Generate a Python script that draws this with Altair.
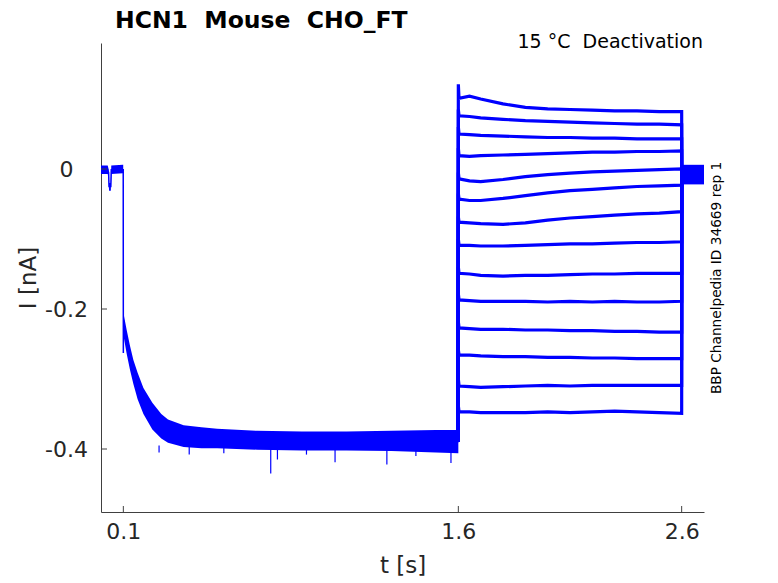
import altair as alt
import pandas as pd

# ---------------- data ----------------
# common activating pulse (all sweeps overlap): envelope of the thick band
pre_t  = [0.0, 0.03, 0.034, 0.036, 0.044, 0.046, 0.098, 0.0995, 0.1005, 0.103, 0.115, 0.13, 0.145, 0.164,
          0.19, 0.23, 0.27, 0.30, 0.37, 0.45, 0.52, 0.7, 0.9, 1.1, 1.3, 1.5, 1.6]
pre_hi = [0.005, 0.005, 0.0, -0.02, -0.02, 0.005, 0.006, 0.006, -0.21, -0.210, -0.230, -0.253, -0.273, -0.291,
          -0.313, -0.334, -0.350, -0.358, -0.366, -0.369, -0.371, -0.374, -0.375, -0.375, -0.374, -0.373, -0.373]
pre_lo = [-0.007, -0.007, -0.011, -0.031, -0.031, -0.007, -0.006, -0.006, -0.24, -0.242, -0.264, -0.287, -0.307, -0.329,
          -0.350, -0.372, -0.385, -0.391, -0.397, -0.399, -0.399, -0.401, -0.402, -0.402, -0.403, -0.405, -0.406]
# centre trace of the activating pulse
mid_t = [0.0, 0.03, 0.034, 0.036, 0.044, 0.046, 0.0995, 0.1, 0.1005, 0.103, 0.115, 0.13, 0.145, 0.164,
         0.19, 0.23, 0.27, 0.30, 0.37, 0.45, 0.52, 0.7, 0.9, 1.1, 1.3, 1.5, 1.6]
mid_y = [-0.001, -0.001, -0.005, -0.025, -0.025, -0.001, -0.001, -0.263, -0.215, -0.226, -0.247, -0.270, -0.290, -0.310,
         -0.331, -0.353, -0.368, -0.375, -0.382, -0.384, -0.385, -0.388, -0.389, -0.389, -0.389, -0.389, -0.390]
# downward noise spikes on the activating pulse
spike_t = [0.26, 0.395, 0.55, 0.76, 0.79, 0.92, 1.048, 1.28, 1.41, 1.567]
spike_y = [-0.405, -0.408, -0.406, -0.435, -0.415, -0.408, -0.419, -0.422, -0.410, -0.420]

# deactivating steps (14 sweeps)
step_t = [1.603, 1.65, 1.7, 1.8, 1.9, 2.0, 2.1, 2.2, 2.3, 2.4, 2.5, 2.6]
onset = [0.121, 0.085, 0.060, 0.030, -0.005, -0.035, -0.068, -0.100, -0.140, -0.178, -0.218, -0.258, -0.300, -0.338]
sweeps = [
    [0.101, 0.104, 0.100, 0.093, 0.088, 0.086, 0.085, 0.084, 0.083, 0.083, 0.082, 0.082],
    [0.076, 0.075, 0.073, 0.071, 0.069, 0.068, 0.067, 0.066, 0.065, 0.064, 0.064, 0.063],
    [0.050, 0.049, 0.048, 0.047, 0.046, 0.045, 0.045, 0.044, 0.044, 0.043, 0.043, 0.043],
    [0.019, 0.018, 0.019, 0.020, 0.021, 0.022, 0.023, 0.024, 0.024, 0.025, 0.025, 0.026],
    [-0.014, -0.017, -0.018, -0.015, -0.011, -0.008, -0.006, -0.004, -0.003, -0.002, -0.001, 0.000],
    [-0.043, -0.045, -0.045, -0.042, -0.038, -0.034, -0.031, -0.029, -0.027, -0.025, -0.024, -0.023],
    [-0.076, -0.077, -0.078, -0.079, -0.077, -0.073, -0.070, -0.068, -0.066, -0.064, -0.063, -0.061],
    [-0.109, -0.109, -0.110, -0.110, -0.109, -0.108, -0.107, -0.107, -0.106, -0.105, -0.105, -0.104],
    [-0.149, -0.150, -0.152, -0.153, -0.152, -0.152, -0.151, -0.150, -0.150, -0.149, -0.149, -0.149],
    [-0.187, -0.188, -0.189, -0.189, -0.189, -0.190, -0.189, -0.190, -0.189, -0.190, -0.190, -0.189],
    [-0.227, -0.228, -0.229, -0.229, -0.230, -0.230, -0.231, -0.231, -0.232, -0.232, -0.233, -0.233],
    [-0.266, -0.266, -0.267, -0.268, -0.268, -0.269, -0.269, -0.270, -0.270, -0.271, -0.271, -0.271],
    [-0.310, -0.311, -0.312, -0.311, -0.310, -0.309, -0.310, -0.309, -0.309, -0.309, -0.309, -0.309],
    [-0.347, -0.347, -0.348, -0.348, -0.348, -0.347, -0.348, -0.347, -0.346, -0.347, -0.348, -0.349],
]
pre_end = -0.390
# return to holding potential
tail_t = [2.6005, 2.7]
tail_y = [-0.008, -0.008]
tail_hi = [0.006, 0.006]
tail_lo = [-0.022, -0.022]

x_ticks = [0.1, 1.6, 2.6]
y_ticks = [0.0, -0.2, -0.4]

# ---------------- tables ----------------
pre_df = pd.DataFrame({"t": pre_t, "hi": pre_hi, "lo": pre_lo})
mid_df = pd.DataFrame({"t": mid_t, "y": mid_y})
spk_df = pd.DataFrame({"t": spike_t, "y": spike_y, "y0": [-0.395] * len(spike_t)})
rows = []
for k, vals in enumerate(sweeps):
    seq = [(1.5995, pre_end), (1.6, onset[k])]
    seq += list(zip(step_t, vals))
    seq += list(zip(tail_t, tail_y))
    for i, (t, y) in enumerate(seq):
        rows.append({"sweep": k, "i": i, "t": t, "y": y})
sw_df = pd.DataFrame(rows)
tail_df = pd.DataFrame({"t": tail_t, "hi": tail_hi, "lo": tail_lo})
xt_df = pd.DataFrame({"t": x_ticks})
yt_df = pd.DataFrame({"y": y_ticks})

W, H = 603, 469
BLUE = "#0000ff"
AX = "#404040"
TXT = "#262626"
FONT = "DejaVu Sans"
NB = "\u00a0"

xs = alt.Scale(domain=[0, 2.7], nice=False, zero=False)
ys = alt.Scale(domain=[-0.49, 0.18], nice=False, zero=False)

x_enc = alt.X("t:Q", scale=xs, title="t [s]",
              axis=alt.Axis(values=x_ticks, ticks=False, grid=False, labelFontSize=22,
                            labelColor=TXT, titleFontSize=23, titleColor=TXT,
                            titleFontWeight="normal", labelPadding=9, titlePadding=12,
                            domainColor=AX, labelFont=FONT, titleFont=FONT, format=".1f"))
y_axis = alt.Axis(values=y_ticks, ticks=False, grid=False, labelFontSize=22,
                  labelColor=TXT, titleFontSize=23, titleColor=TXT,
                  titleFontWeight="normal", labelPadding=35, labelAlign="center", titlePadding=4,
                  domainColor=AX, labelFont=FONT, titleFont=FONT,
                  labelExpr="datum.value == 0 ? '0' : (datum.value < 0 ? '-' + format(-datum.value, '.1f') : format(datum.value, '.1f'))")

band = alt.Chart(pre_df).mark_area(color=BLUE, opacity=1).encode(
    x=x_enc, y=alt.Y("hi:Q", scale=ys, axis=y_axis, title="I [nA]"), y2="lo:Q")
mid = alt.Chart(mid_df).mark_line(color=BLUE, strokeWidth=1.5).encode(
    x="t:Q", y=alt.Y("y:Q", scale=ys), order="t:Q")
spikes = alt.Chart(spk_df).mark_rule(color=BLUE, strokeWidth=1.2).encode(
    x="t:Q", y=alt.Y("y0:Q", scale=ys), y2="y:Q")
lines = alt.Chart(sw_df).mark_line(color=BLUE, strokeWidth=3.2).encode(
    x="t:Q", y=alt.Y("y:Q", scale=ys), detail="sweep:N", order="i:Q")
tail = alt.Chart(tail_df).mark_area(color=BLUE, opacity=1).encode(
    x="t:Q", y=alt.Y("hi:Q", scale=ys), y2="lo:Q")

xticks = alt.Chart(xt_df).mark_rule(color=AX, strokeWidth=1).encode(
    x="t:Q", y=alt.value(H), y2=alt.value(H - 6))
yticks = alt.Chart(yt_df).mark_rule(color=AX, strokeWidth=1).encode(
    y=alt.Y("y:Q", scale=ys), x=alt.value(0), x2=alt.value(6))

label1 = alt.Chart(pd.DataFrame({"s": ["15" + NB + "°C" + NB + NB + "Deactivation"]})).mark_text(
    align="right", baseline="alphabetic", fontSize=19, font=FONT, color="#000000").encode(
    text="s:N", x=alt.value(W - 1), y=alt.value(5))
label2 = alt.Chart(pd.DataFrame({"s": ["BBP Channelpedia ID 34669 rep 1"]})).mark_text(
    align="center", baseline="middle", fontSize=13.7, font=FONT, color="#000000", angle=270).encode(
    text="s:N", x=alt.value(W + 13), y=alt.value(235))

chart = alt.layer(band, mid, spikes, lines, tail, xticks, yticks, label1, label2).properties(
    width=W, height=H,
    title=alt.TitleParams("HCN1" + NB + NB + "Mouse" + NB + NB + "CHO_FT", anchor="start", fontSize=23.5,
                          fontWeight="bold", font=FONT, color="#000000", dx=14, offset=1, frame="group"),
    autosize=alt.AutoSizeParams(type="none"),
    padding={"left": 93, "top": 35, "right": 60, "bottom": 68},
).configure_view(stroke=None)

chart.save("out.html", embed_options={"renderer": "svg", "actions": False})
